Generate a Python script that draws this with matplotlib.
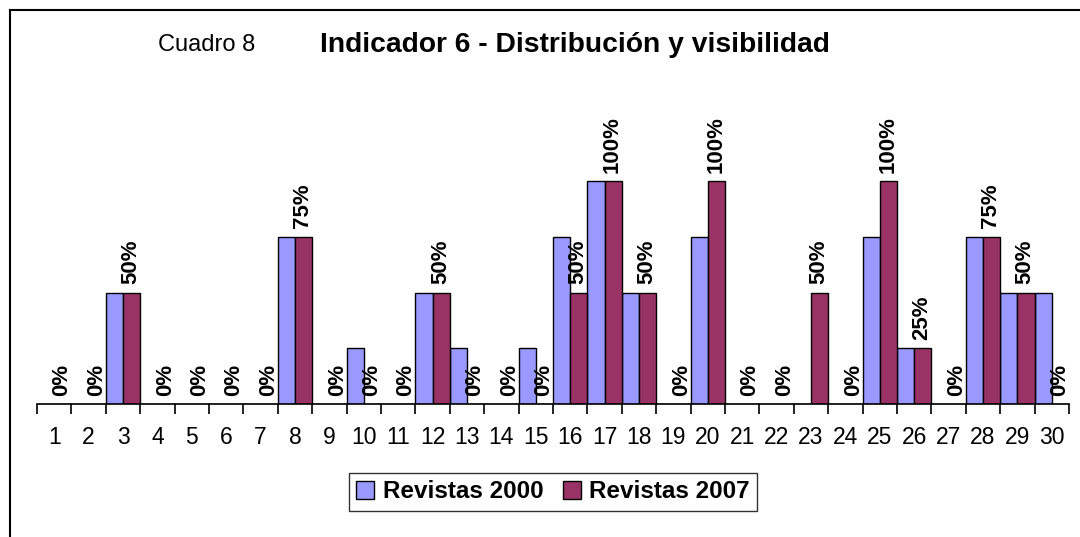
import matplotlib
matplotlib.use("Agg")
import matplotlib.pyplot as plt
from matplotlib.lines import Line2D
from matplotlib.patches import Patch
import numpy as np

plt.rcParams['font.family'] = ['Liberation Sans', 'DejaVu Sans']

categories = list(range(1, 31))
rev_2000 = [0, 0, 0.50, 0, 0, 0, 0, 0.75, 0, 0.25,
            0, 0.50, 0.25, 0, 0.25, 0.75, 1.00, 0.50, 0, 0.75,
            0, 0, 0, 0, 0.75, 0.25, 0, 0.75, 0.50, 0.50]
rev_2007 = [0, 0, 0.50, 0, 0, 0, 0, 0.75, 0, 0,
            0, 0.50, 0, 0, 0, 0.50, 1.00, 0.50, 0, 1.00,
            0, 0, 0.50, 0, 1.00, 0.25, 0, 0.75, 0.50, 0]
series_names = ["Revistas 2000", "Revistas 2007"]
col_2000 = "#9999FF"
col_2007 = "#993366"

W, H = 1080, 537
fig = plt.figure(figsize=(W / 100, H / 100), dpi=100)

# plot area in pixel units
x0, x1 = 37, 1069
y_base, y_full = 404, 181
ymax = 1.25
ax_h = (y_base - y_full) * ymax
ax = fig.add_axes([x0 / W, 1 - y_base / H, (x1 - x0) / W, ax_h / H])

x = np.array(categories, dtype=float)
bw = 0.5
ax.bar(x - bw / 2, rev_2000, width=bw, color=col_2000, edgecolor="black", linewidth=1, label=series_names[0])
ax.bar(x + bw / 2, rev_2007, width=bw, color=col_2007, edgecolor="black", linewidth=1, label=series_names[1])

# data labels on the 2007 series
for xi, v in zip(x, rev_2007):
    ax.annotate(f"{int(round(v * 100))}%", (xi + bw / 2, v), xytext=(-0.5, 6),
                textcoords="offset points", rotation=90, ha="center", va="bottom",
                fontsize=16, fontweight="bold")

ax.set_xlim(0.5, 30.5)
ax.set_ylim(0, ymax)
for s in ["top", "right", "left"]:
    ax.spines[s].set_visible(False)
ax.spines["bottom"].set_linewidth(1.2)
ax.set_yticks([])
ax.set_xticks(x)
ax.set_xticklabels([str(c) for c in categories], fontsize=16.5)
ax.tick_params(axis="x", which="major", length=0, pad=16)
ax.set_xticks(np.arange(0.5, 31, 1.0), minor=True)
ax.tick_params(axis="x", which="minor", length=7, width=1.2, direction="out")

# titles
fig.text(158 / W, 1 - 45 / H, "Cuadro 8", fontsize=17, va="center", ha="left")
fig.text(575 / W, 1 - 45 / H, "Indicador 6 - Distribución y visibilidad", fontsize=20.3,
         fontweight="bold", va="center", ha="center")

# legend
handles = [Patch(facecolor=col_2000, edgecolor="black"), Patch(facecolor=col_2007, edgecolor="black")]
leg = fig.legend(handles, series_names, loc="center", bbox_to_anchor=(553 / W, 1 - 492 / H),
                 ncol=2, prop={"weight": "bold", "size": 17.5}, frameon=True,
                 fancybox=False, handlelength=0.75, handleheight=0.75, handletextpad=0.35,
                 columnspacing=0.8, borderpad=0.3)
leg.get_frame().set_edgecolor("black")
leg.get_frame().set_linewidth(1)

# chart border (left and top visible)
fig.add_artist(Line2D([10 / W, 10 / W], [0, 1 - 10 / H], color="black", linewidth=1.5))
fig.add_artist(Line2D([10 / W, 1], [1 - 10 / H, 1 - 10 / H], color="black", linewidth=1.5))

fig.savefig("out.png", dpi=100)
